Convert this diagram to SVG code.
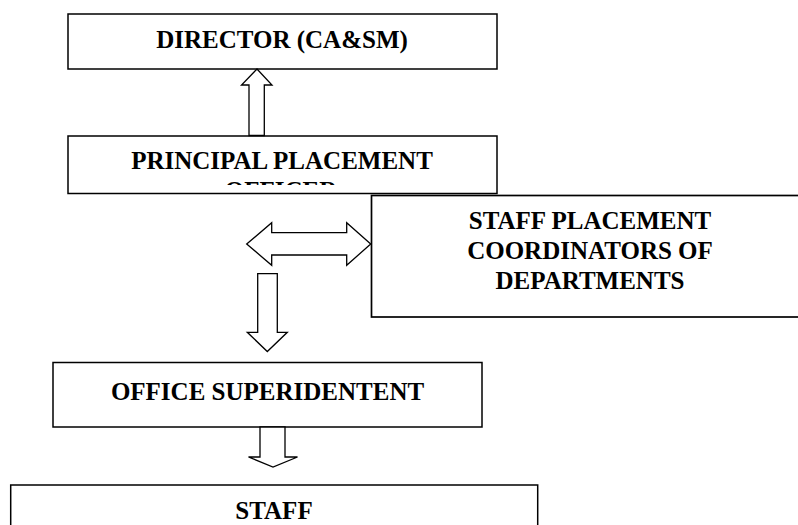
<svg xmlns="http://www.w3.org/2000/svg" width="798" height="525" viewBox="0 0 798 525">
<defs>
<style>
.box{fill:#fff;stroke:#000;stroke-width:1.5}
.arr{fill:#fff;stroke:#000;stroke-width:1.3;stroke-linejoin:miter}
.t{font-family:"Liberation Serif","Times New Roman",serif;font-weight:bold;font-size:25px;fill:#000;text-anchor:middle}
</style>
<clipPath id="clipP"><rect x="68" y="136" width="429" height="49"/></clipPath>
</defs>
<rect width="798" height="525" fill="#fff"/>
<g id="director">
<rect class="box" x="68" y="14" width="429" height="55"/>
<text class="t" x="282" y="48">DIRECTOR (CA&amp;SM)</text>
</g>
<g id="principal">
<rect class="box" x="68" y="136" width="429" height="57.5"/>
<text class="t" x="282" y="169">PRINCIPAL PLACEMENT</text>
<text class="t" x="281" y="198.5" clip-path="url(#clipP)">OFFICER</text>
</g>
<g id="staffcoord">
<rect class="box" x="371.5" y="195.5" width="440" height="121.5" style="stroke-width:1.7"/>
<text class="t" x="590" y="229">STAFF PLACEMENT</text>
<text class="t" x="590" y="259">COORDINATORS OF</text>
<text class="t" x="590" y="288.5">DEPARTMENTS</text>
</g>
<g id="office">
<rect class="box" x="53" y="362.5" width="429" height="64.5"/>
<text class="t" x="267.5" y="400">OFFICE SUPERIDENTENT</text>
</g>
<g id="staff">
<rect class="box" x="10.7" y="485" width="527" height="50"/>
<text class="t" x="274" y="519">STAFF</text>
</g>
<g id="connectors">
<polygon class="arr" points="257,69 272,85 264.3,85 264.3,135.5 249,135.5 249,85 241.5,85"/>
<polygon class="arr" points="246.7,244 271.7,222.7 271.7,232.7 346.7,232.7 346.7,222.7 370.7,244 346.7,265.3 346.7,255 271.7,255 271.7,265.3"/>
<polygon class="arr" points="257.7,273.7 277.3,273.7 277.3,332.3 287.3,332.3 267.3,351.5 247.3,332.3 257.7,332.3"/>
<polygon class="arr" points="260,427 285,427 285,457 297.5,457 273,467 248.5,457 260,457"/>
</g>
</svg>
